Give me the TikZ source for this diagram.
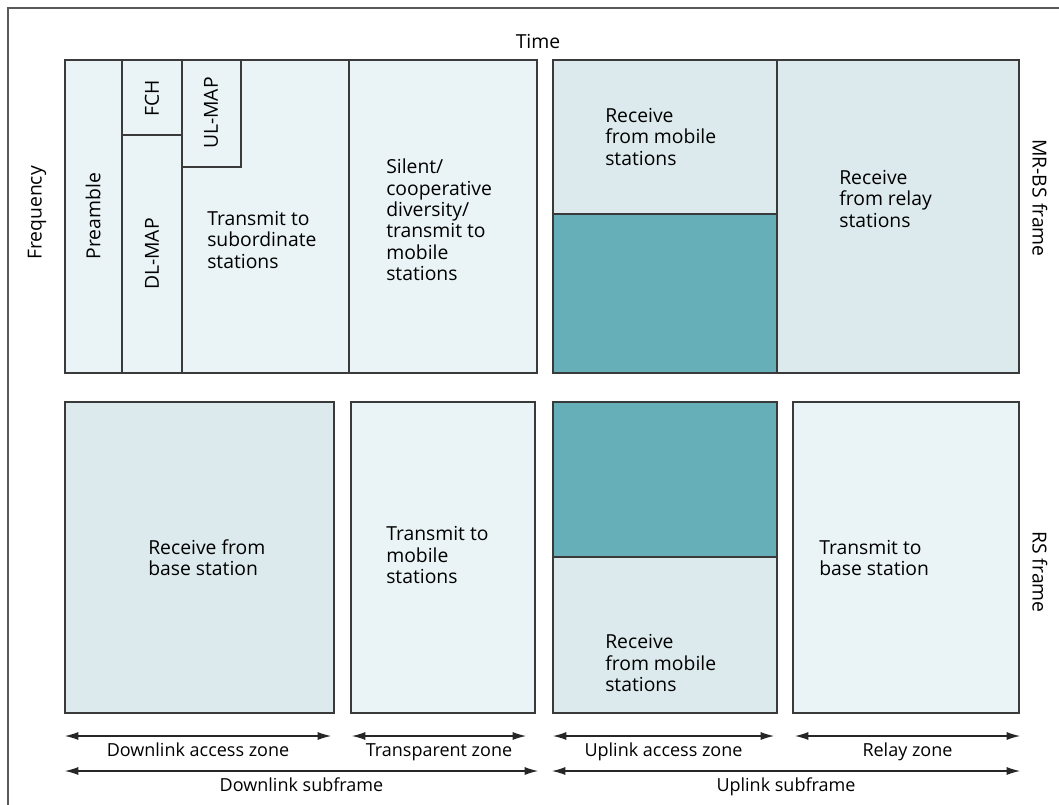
\documentclass[tikz,border=0pt]{standalone}
\usepackage{fontspec}
\setmainfont{Open Sans}
\usetikzlibrary{arrows.meta}
\definecolor{palecell}{HTML}{EAF4F7}
\definecolor{lightcell}{HTML}{DCEAEE}
\definecolor{tealcell}{HTML}{66AEB8}
\definecolor{edgegray}{HTML}{3A3A3A}
\tikzset{cell/.style={draw=edgegray, line width=1.1pt},
        slot/.style={font=\fontsize{14.5}{16}\selectfont, align=left, inner sep=0pt},
        tag/.style={font=\fontsize{13.5}{16}\selectfont, inner sep=0pt},
        span/.style={{Latex[length=10pt,width=6pt]}-{Latex[length=10pt,width=6pt]},
                     draw=black!85, line width=0.8pt},
        }

\begin{document}
\begin{tikzpicture}[x=0.75pt, y=-0.75pt]
    \useasboundingbox (0,0) rectangle (1059,805);
    \draw[draw=black!65, line width=1pt] (8,805) -- (8,8) -- (1059,8);

    % MR-BS frame
    \draw[cell, fill=palecell] (65,60) rectangle (122,373);
    \draw[cell, fill=palecell] (122,60) rectangle (182,135);
    \draw[cell, fill=palecell] (122,135) rectangle (182,373);
    \draw[cell, fill=palecell] (182,60) rectangle (349,373);
    \draw[cell, fill=palecell] (182,60) rectangle (241,167);
    \draw[cell, fill=palecell] (349,60) rectangle (537,373);
    \draw[cell, fill=lightcell] (553,60) rectangle (777,214);
    \draw[cell, fill=tealcell] (553,214) rectangle (777,373);
    \draw[cell, fill=lightcell] (777,60) rectangle (1019,373);

    \node[slot, rotate=90] (preamble) at (93,216) {Preamble};
    \node[slot, rotate=90] (fch) at (152,98) {FCH};
    \node[slot, rotate=90] (dlmap) at (152,254) {DL-MAP};
    \node[slot, rotate=90] (ulmap) at (211,113) {UL-MAP};
    \node[slot, anchor=west] (txsub) at (207,240) {Transmit to\\subordinate\\stations};
    \node[slot, anchor=west] (silent) at (386,220) {Silent/\\cooperative\\diversity/\\transmit to\\mobile\\stations};
    \node[slot, anchor=west] (rxms) at (605,137) {Receive\\from mobile\\stations};
    \node[slot, anchor=west] (rxrs) at (839,199) {Receive\\from relay\\stations};

    % RS frame
    \draw[cell, fill=lightcell] (65,402) rectangle (334,713);
    \draw[cell, fill=palecell] (351,402) rectangle (535,713);
    \draw[cell, fill=tealcell] (553,402) rectangle (777,557);
    \draw[cell, fill=lightcell] (553,557) rectangle (777,713);
    \draw[cell, fill=palecell] (793,402) rectangle (1019,713);

    \node[slot, anchor=west] (rxbs) at (148,558) {Receive from\\base station};
    \node[slot, anchor=west] (txms) at (386,555) {Transmit to\\mobile\\stations};
    \node[slot, anchor=west] (rxms2) at (605,663) {Receive\\from mobile\\stations};
    \node[slot, anchor=west] (txbs) at (819,558) {Transmit to\\base station};

    % axes and frame names
    \node[slot] (time) at (538,42) {Time};
    \node[slot, rotate=90] (freq) at (37,213) {Frequency};
    \node[slot, rotate=-90] (mrbs) at (1040,198) {MR-BS frame};
    \node[slot, rotate=-90] (rs) at (1040,572) {RS frame};

    % zones
    \coordinate (dla-l) at (65,736);  \coordinate (dla-r) at (331,736);
    \coordinate (tz-l) at (352,736);  \coordinate (tz-r) at (526,736);
    \coordinate (ula-l) at (553,736); \coordinate (ula-r) at (774,736);
    \coordinate (rz-l) at (795,736);  \coordinate (rz-r) at (1020,736);
    \draw[span] (dla-l) -- node[tag, below=5pt] (dla) {Downlink access zone} (dla-r);
    \draw[span] (tz-l) -- node[tag, below=5pt] (tz) {Transparent zone} (tz-r);
    \draw[span] (ula-l) -- node[tag, below=5pt] (ula) {Uplink access zone} (ula-r);
    \draw[span] (rz-l) -- node[tag, below=5pt] (rz) {Relay zone} (rz-r);

    % subframes
    \coordinate (dls-l) at (65,771);  \coordinate (dls-r) at (538,771);
    \coordinate (uls-l) at (552,771); \coordinate (uls-r) at (1020,771);
    \draw[span] (dls-l) -- node[tag, below=5pt] (dls) {Downlink subframe} (dls-r);
    \draw[span] (uls-l) -- node[tag, below=5pt] (uls) {Uplink subframe} (uls-r);
\end{tikzpicture}
\end{document}
